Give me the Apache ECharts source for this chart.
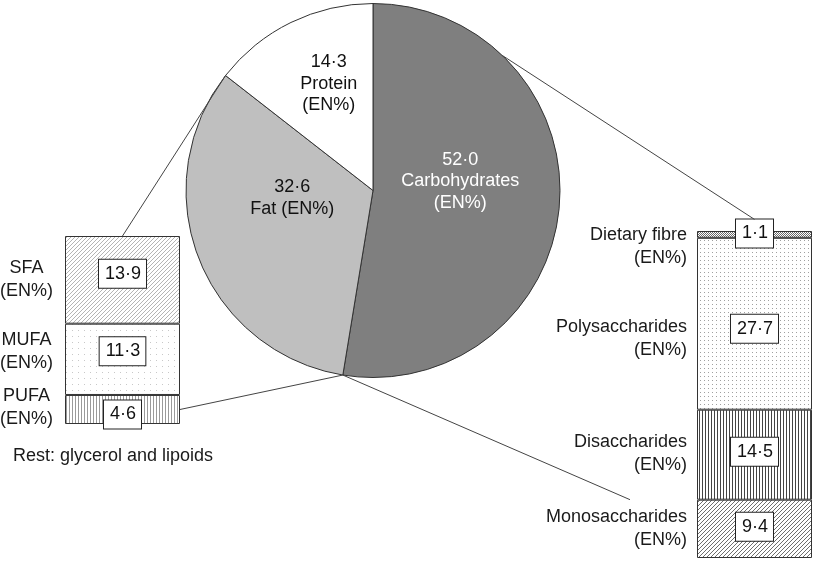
<!DOCTYPE html>
<html><head><meta charset="utf-8">
<script src="https://cdn.jsdelivr.net/npm/echarts@6/dist/echarts.min.js"></script>
<style>html,body{margin:0;padding:0;background:#fff}#c{width:814px;height:562px}</style>
</head><body><div id="c"></div>
<script>
// ---------------- data ----------------
const macroNames = ['Carbohydrates\n(EN%)', 'Fat (EN%)', 'Protein\n(EN%)'];
const macroValues = [52.0, 32.6, 14.3];
const fatNames = ['SFA', 'MUFA', 'PUFA'];                 // top to bottom
const fatValues = [13.9, 11.3, 4.6];
const carbNames = ['Dietary fibre', 'Polysaccharides', 'Disaccharides', 'Monosaccharides']; // top to bottom
const carbValues = [1.1, 27.7, 14.5, 9.4];
const unitLabel = '(EN%)';
const restNote = 'Rest: glycerol and lipoids';

// ---------------- layout / style ----------------
const FONT = "'Liberation Sans', Arial, Helvetica, sans-serif";
const PIE = { cx: 373, cy: 190.5, r: 187 };
const LEFT = { left: 65, top: 236, width: 115, height: 188 };
const RIGHT = { left: 697, top: 231, width: 115, height: 327 };
const pieColors = ['#7f7f7f', '#bfbfbf', '#ffffff'];
const pieLabelColors = ['#ffffff', '#111111', '#111111'];
const pieLabelShift = [[-4.5, -8.5], [4.5, -13.75], [-1, -10]];
const fatNameShift = [0, -8, -2];
const fatBoxShift = [-6, -8, 5];
const carbNameShift = [12, 15, -1, 0];
const carbBoxShift = [-1, 5, -3, -2];

function pat(size, draw) {
  const c = document.createElement('canvas');
  c.width = size; c.height = size;
  const g = c.getContext('2d');
  g.fillStyle = '#fff'; g.fillRect(0, 0, size, size);
  draw(g, size);
  return { image: c, repeat: 'repeat' };
}
function diag(s, color, w) {
  return pat(s, (g, n) => {
    g.strokeStyle = color; g.lineWidth = w;
    g.beginPath();
    g.moveTo(-1, n + 1); g.lineTo(n + 1, -1);
    g.moveTo(-1, 1); g.lineTo(1, -1);
    g.moveTo(n - 1, n + 1); g.lineTo(n + 1, n - 1);
    g.stroke();
  });
}
function vert(s, color, w) {
  return pat(s, (g, n) => { g.fillStyle = color; g.fillRect(0, 0, w, n); });
}
function dots(s, color, d) {
  return pat(s, (g, n) => { g.fillStyle = color; g.fillRect(0, 0, d, d); });
}
function checker(color) {
  return pat(2, (g) => { g.fillStyle = color; g.fillRect(0, 0, 1, 1); g.fillRect(1, 1, 1, 1); });
}
const fatPatterns = [diag(4, '#b4b4b4', 1), dots(6, '#c8c8c8', 1), vert(3, '#9a9a9a', 1)];
const carbPatterns = [checker('#6a6a6a'), dots(4, '#a0a0a0', 1), vert(3, '#444', 1), diag(4, '#6e6e6e', 1)];

const fmt = v => v.toFixed(1).replace('.', '·');
const sum = a => a.reduce((s, v) => s + v, 0);

const boxLabel = {
  show: true, position: 'inside', formatter: p => fmt(p.value),
  fontFamily: FONT, fontSize: 18, color: '#111', lineHeight: 19,
  backgroundColor: '#fff', borderColor: '#222', borderWidth: 1, padding: [5, 5, 4, 6]
};

function buildSeries(g, names, values, patterns, nameShift, boxShift, nameAlign, nameDist) {
  const out = [];
  for (let i = names.length - 1; i >= 0; i--) {
    out.push({
      type: 'bar', name: names[i], xAxisIndex: g, yAxisIndex: g, stack: 'v' + g,
      data: [values[i]], barWidth: '100%', barGap: '-100%',
      itemStyle: { color: patterns[i], borderColor: '#333', borderWidth: 1 },
      label: boxLabel, labelLayout: { dy: boxShift[i] }, z: 2
    });
    out.push({
      type: 'bar', name: names[i] + ' label', xAxisIndex: g, yAxisIndex: g, stack: 'n' + g,
      data: [values[i]], barWidth: '100%', barGap: '-100%', silent: true,
      itemStyle: { color: 'rgba(0,0,0,0)' },
      label: {
        show: true, position: 'left', distance: nameDist, align: nameAlign,
        formatter: names[i] + '\n' + unitLabel,
        fontFamily: FONT, fontSize: 18, lineHeight: 23, color: '#1a1a1a'
      },
      labelLayout: { dy: nameShift[i] }, z: 3
    });
  }
  return out;
}

const chart = echarts.init(document.getElementById('c'), null, { renderer: 'canvas' });
const option = {
  animation: false,
  backgroundColor: '#fff',
  title: {
    text: restNote, left: 8, top: 442,
    textStyle: { fontFamily: FONT, fontSize: 18, fontWeight: 'normal', color: '#1a1a1a' }
  },
  grid: [
    { left: LEFT.left, top: LEFT.top, width: LEFT.width, height: LEFT.height },
    { left: RIGHT.left, top: RIGHT.top, width: RIGHT.width, height: RIGHT.height }
  ],
  xAxis: [
    { type: 'category', gridIndex: 0, data: ['fat'], show: false },
    { type: 'category', gridIndex: 1, data: ['carb'], show: false }
  ],
  yAxis: [
    { type: 'value', gridIndex: 0, min: 0, max: sum(fatValues), show: false },
    { type: 'value', gridIndex: 1, min: 0, max: sum(carbValues), show: false }
  ],
  series: [
    {
      type: 'pie', center: [PIE.cx, PIE.cy], radius: PIE.r, startAngle: 90, clockwise: true,
      silent: true, z: 1,
      data: macroNames.map((n, i) => ({
        name: n, value: macroValues[i],
        itemStyle: { color: pieColors[i] },
        label: { color: pieLabelColors[i] }
      })),
      itemStyle: { borderColor: '#333', borderWidth: 1 },
      label: {
        show: true, position: 'inside',
        formatter: p => fmt(p.value) + '\n' + p.name,
        fontFamily: FONT, fontSize: 18, lineHeight: 21.5, align: 'center'
      },
      labelLine: { show: false },
      labelLayout: p => ({ dx: pieLabelShift[p.dataIndex][0], dy: pieLabelShift[p.dataIndex][1] })
    }
  ].concat(
    buildSeries(0, fatNames, fatValues, fatPatterns, fatNameShift, fatBoxShift, 'center', 38.5),
    buildSeries(1, carbNames, carbValues, carbPatterns, carbNameShift, carbBoxShift, 'right', 10)
  )
};
chart.setOption(option);

// connector lines derived from pie angles and bar axes
const total = sum(macroValues);
function piePoint(deg) {
  const a = (deg - 90) * Math.PI / 180;
  return [PIE.cx + PIE.r * Math.cos(a), PIE.cy + PIE.r * Math.sin(a)];
}
const carbEnd = piePoint(macroValues[0] / total * 360);
const fatEnd = piePoint((macroValues[0] + macroValues[1]) / total * 360);
const carbTap = piePoint(43.8);
const fatTop = chart.convertToPixel({ xAxisIndex: 0, yAxisIndex: 0 }, [0, sum(fatValues)]);
const pufaMid = chart.convertToPixel({ xAxisIndex: 0, yAxisIndex: 0 }, [0, fatValues[2] / 2]);
const monoTop = chart.convertToPixel({ xAxisIndex: 1, yAxisIndex: 1 }, [0, carbValues[3]]);
const fibreMid = chart.convertToPixel({ xAxisIndex: 1, yAxisIndex: 1 }, [0, sum(carbValues) - carbValues[0] / 2]);
const seg = (a, b) => ({
  type: 'line', z: 20, silent: true,
  shape: { x1: a[0], y1: a[1], x2: b[0], y2: b[1] },
  style: { stroke: '#444', lineWidth: 1 }
});
chart.setOption({
  graphic: [
    seg(fatEnd, fatTop),
    seg(carbEnd, [LEFT.left + LEFT.width, pufaMid[1]]),
    seg(carbEnd, [RIGHT.left - 67, monoTop[1]]),
    seg(carbTap, [fibreMid[0], fibreMid[1] - 15])
  ]
});
</script>
</body></html>
